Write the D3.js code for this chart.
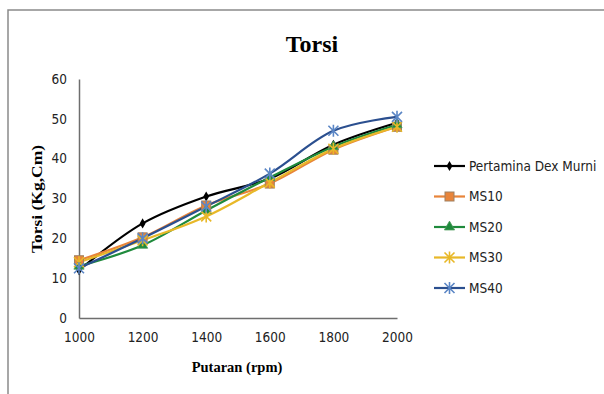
<!DOCTYPE html>
<html>
<head>
<meta charset="utf-8">
<script src="https://cdnjs.cloudflare.com/ajax/libs/d3/7.8.5/d3.min.js"></script>
<style>
  body { margin: 0; background: #fff; }
  svg { display: block; }
</style>
</head>
<body>
<div id="chart"></div>
<script>
// data
var putaran = [1000, 1200, 1400, 1600, 1800, 2000]
var dexMurni = [12, 23.75, 30.5, 35, 43.5, 49]
var ms10 = [14.5, 20.25, 28.25, 33.75, 42.25, 48]
var ms20 = [13, 18.25, 27, 35.25, 43, 48.5]
var ms30 = [14, 19.5, 25.5, 34, 42.5, 48]
var ms40 = [12.5, 20, 28, 36.25, 47, 50.5]
var yTicks = [0, 10, 20, 30, 40, 50, 60]

var series = [
  {name: "Pertamina Dex Murni", values: dexMurni, color: "#000000", marker: "diamond"},
  {name: "MS10", values: ms10, color: "#E8843A", marker: "square"},
  {name: "MS20", values: ms20, color: "#1F8A3C", marker: "triangle"},
  {name: "MS30", values: ms30, color: "#E8B828", marker: "star"},
  {name: "MS40", values: ms40, color: "#2B4F8F", marker: "asterisk"}
]

var W = 604, H = 394
var margin = {top: 79, right: 207, bottom: 76, left: 79}

var svg = d3.select("#chart").append("svg")
  .attr("width", W).attr("height", H)

// outer frame of the figure
svg.append("path")
  .attr("d", "M8,394 L8,10 L604,10")
  .attr("fill", "none").attr("stroke", "#8a8a8a").attr("stroke-width", 1.5)

var x = d3.scaleLinear().domain([1000, 2000]).range([margin.left, W - margin.right])
var y = d3.scaleLinear().domain([0, 60]).range([H - margin.bottom, margin.top])

var sans = "'DejaVu Sans Condensed', 'Liberation Sans', sans-serif"
var serif = "'Liberation Serif', 'DejaVu Serif', serif"

// axes
var xAxis = svg.append("g")
  .attr("transform", `translate(0,${y(0)})`)
  .call(d3.axisBottom(x).tickValues(putaran).tickSize(0).tickPadding(14).tickFormat(d3.format("d")))
xAxis.select(".domain").attr("stroke", "#6e6e6e").attr("stroke-width", 1.5)
xAxis.selectAll("text").attr("font-family", sans).attr("font-size", 13.5).attr("fill", "#222")

var yAxis = svg.append("g")
  .attr("transform", `translate(${x(1000)},0)`)
  .call(d3.axisLeft(y).tickValues(yTicks).tickSize(0).tickPadding(12))
yAxis.select(".domain").attr("stroke", "#6e6e6e").attr("stroke-width", 1.5)
yAxis.selectAll("text").attr("font-family", sans).attr("font-size", 13.5).attr("fill", "#222")

// titles
svg.append("text")
  .attr("x", 312).attr("y", 52)
  .attr("text-anchor", "middle")
  .attr("font-family", serif).attr("font-weight", "bold").attr("font-size", 24)
  .text("Torsi")

svg.append("text")
  .attr("x", 237).attr("y", 372)
  .attr("text-anchor", "middle")
  .attr("font-family", serif).attr("font-weight", "bold").attr("font-size", 14.5)
  .text("Putaran (rpm)")

svg.append("text")
  .attr("transform", "translate(42,199) rotate(-90)")
  .attr("text-anchor", "middle")
  .attr("font-family", serif).attr("font-weight", "bold").attr("font-size", 15)
  .attr("textLength", 108).attr("lengthAdjust", "spacingAndGlyphs")
  .text("Torsi (Kg,Cm)")

// marker shapes
function drawMarker(g, type, color) {
  if (type == "diamond") {
    g.append("path").attr("d", d3.symbol(d3.symbolDiamond, 30)())
      .attr("fill", color)
  } else if (type == "square") {
    g.append("rect").attr("x", -4.5).attr("y", -4.5).attr("width", 9).attr("height", 9)
      .attr("fill", color).attr("stroke", "#a08060").attr("stroke-width", 1)
  } else if (type == "triangle") {
    g.append("path").attr("d", d3.symbol(d3.symbolTriangle, 45)())
      .attr("fill", color).attr("stroke", "#4a9a5a").attr("stroke-width", 0.8)
  } else if (type == "star") {
    g.append("path").attr("d", "M-5,-5L5,5M-5,5L5,-5M0,-6L0,6")
      .attr("stroke", color).attr("stroke-width", 1.6).attr("fill", "none")
  } else if (type == "asterisk") {
    g.append("path").attr("d", "M-5,-5L5,5M-5,5L5,-5M0,-6L0,6")
      .attr("stroke", "#5b86c5").attr("stroke-width", 1.6).attr("fill", "none")
  }
}

var line = d3.line()
  .x((d, i) => x(putaran[i]))
  .y(d => y(d))
  .curve(d3.curveCatmullRom.alpha(0.5))

series.forEach(s => {
  svg.append("path")
    .datum(s.values)
    .attr("d", line)
    .attr("fill", "none")
    .attr("stroke", s.color)
    .attr("stroke-width", 2.2)
})

series.forEach(s => {
  s.values.forEach((v, i) => {
    var g = svg.append("g").attr("transform", `translate(${x(putaran[i])},${y(v)})`)
    drawMarker(g, s.marker, s.color)
  })
})

// legend
var legend = svg.append("g")
series.forEach((s, i) => {
  var ly = 166 + i * 30.5
  legend.append("line")
    .attr("x1", 434).attr("x2", 465).attr("y1", ly).attr("y2", ly)
    .attr("stroke", s.color).attr("stroke-width", 2.2)
  var g = legend.append("g").attr("transform", `translate(449.5,${ly})`)
  drawMarker(g, s.marker, s.color)
  legend.append("text")
    .attr("x", 469).attr("y", ly).attr("dy", "0.35em")
    .attr("font-family", sans).attr("font-size", 13.5).attr("fill", "#222")
    .text(s.name)
})
</script>
</body>
</html>
